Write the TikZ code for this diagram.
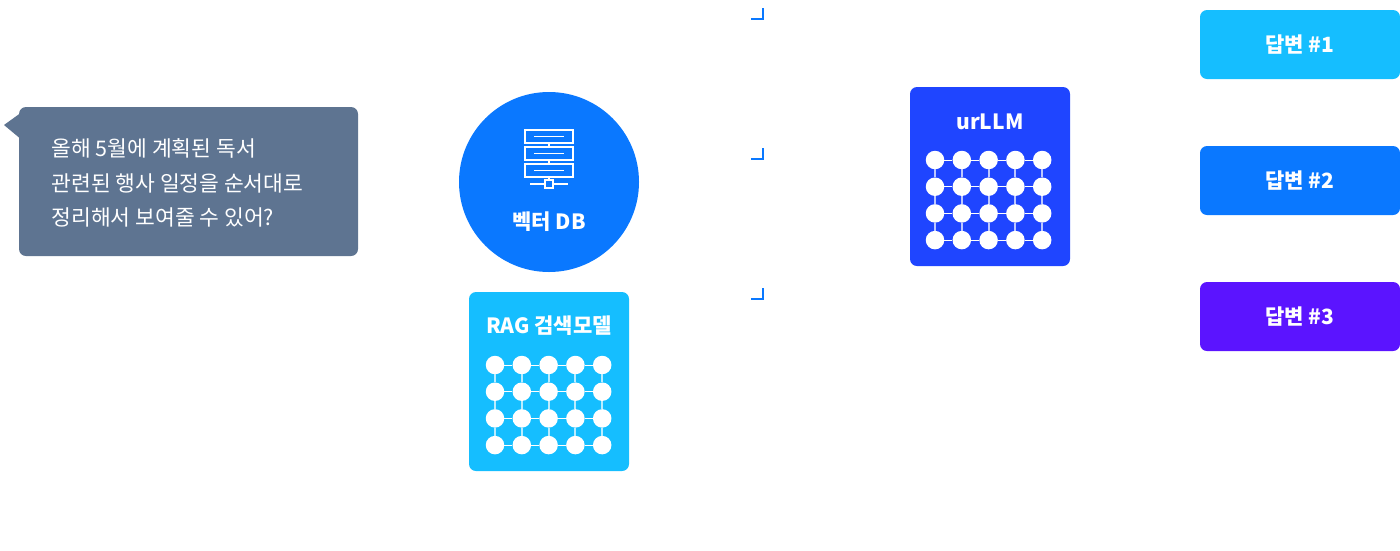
\documentclass[tikz,border=0pt]{standalone}
\usepackage{fontspec}
\setmainfont{Noto Sans CJK KR}
\begin{document}
\begin{tikzpicture}[x=1pt,y=-1pt,
  box/.style={rounded corners=7pt,inner sep=0},
  dot/.style={circle,fill=white,minimum size=18.5pt,inner sep=0},
  ttl/.style={text=white,font=\bfseries\fontsize{21}{24}\selectfont}]
\useasboundingbox (0,0) rectangle (1400,550);
\definecolor{bub}{HTML}{5E7491}
\definecolor{cyanb}{HTML}{15BEFF}
\definecolor{blueb}{HTML}{0A78FF}
\definecolor{deep}{HTML}{1F45FF}
\definecolor{purp}{HTML}{5B14FF}
% bubble
\fill[bub,rounded corners=7pt] (19,107) rectangle (358,256);
\fill[bub] (4,125) -- (22,112) -- (22,140) -- cycle;
\node[anchor=west,text=white,align=left,font=\fontsize{21.5}{34.5}\selectfont] (q) at (48,183) {올해 5월에 계획된 독서\\관련된 행사 일정을 순서대로\\정리해서 보여줄 수 있어?};
% vector DB
\node[circle,fill=blueb,minimum size=180pt,inner sep=0] (db) at (549,182) {};
\begin{scope}[draw=white,line width=1.3pt]
\foreach \y in {130,147,164}{
  \draw (525,\y) rectangle (573,\y+13);
  \draw (534,\y+6.5) -- (564,\y+6.5);}
\draw (549,143)--(549,147) (549,160)--(549,164) (549,177)--(549,181);
\draw (530,184)--(545,184) (553,184)--(568,184);
\draw (545,180) rectangle (553,188);
\end{scope}
\node[ttl] (dbl) at (549,222) {벡터 DB};
% RAG
\node[box,fill=cyanb,minimum width=160pt,minimum height=179pt] (rag) at (549,381.5) {};
\node[ttl] (ragl) at (549,326) {RAG 검색모델};
% urLLM
\node[box,fill=deep,minimum width=160pt,minimum height=179pt] (llm) at (990,176.5) {};
\node[ttl] (llml) at (990,122) {urLLM};
% grids
\foreach \ox/\oy/\n/\lc in {495/365/r/cyanb, 935/160/u/deep}{
  \foreach \i in {0,...,4}{\foreach \j in {0,...,3}{
    \node[dot] (\n\i\j) at (\ox+26.8*\i,\oy+26.7*\j) {};}}
  \foreach \i in {0,...,4}{\foreach \j in {0,...,2}{
    \pgfmathtruncatemacro\jj{\j+1}
    \draw[white!70!\lc,line width=2pt] (\n\i\j)--(\n\i\jj);}}
  \foreach \i in {0,...,3}{\foreach \j in {0,...,3}{
    \pgfmathtruncatemacro\ii{\i+1}
    \draw[white,line width=1pt] (\n\i\j)--(\n\ii\j);}}
}
% answers
\foreach \y/\c/\t/\n in {44.5/cyanb/1/a1, 180.5/blueb/2/a2, 316.5/purp/3/a3}{
  \node[box,fill=\c,minimum width=200pt,minimum height=69pt,ttl] (\n) at (1300,\y) {답변 \#\t};}
% corner marks
\foreach \y/\n in {8/m1,148/m2,288/m3}{
  \coordinate (\n a) at (762.5,\y);
  \coordinate (\n b) at (762.5,\y+11);
  \coordinate (\n c) at (751,\y+11);
  \draw[blueb,line width=2pt] (\n a)--(\n b)--(\n c);}
\end{tikzpicture}
\end{document}
